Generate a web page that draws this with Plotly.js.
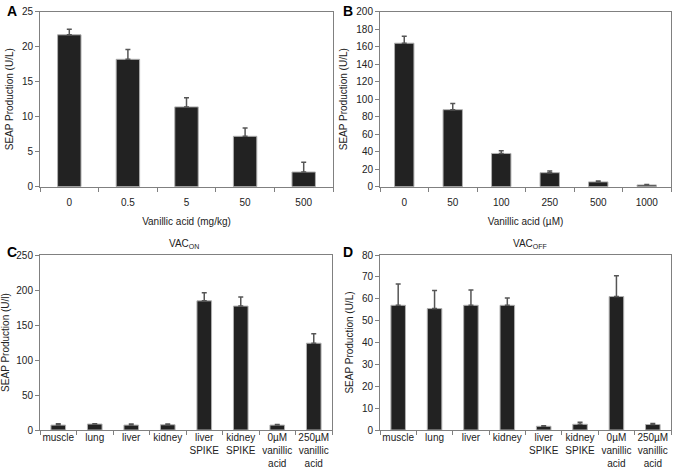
<!DOCTYPE html>
<html>
<head>
<meta charset="utf-8">
<script src="https://cdn.plot.ly/plotly-3.0.1.min.js"></script>
<style>html,body{margin:0;padding:0;background:#fff;}#chart{width:673px;height:472px;}</style>
</head>
<body>
<div id="chart"></div>
<script>
// Panel A
const catsA = ["0", "0.5", "5", "50", "500"];
const valsA = [21.7, 18.2, 11.4, 7.2, 2.1];
const errA = [0.8, 1.4, 1.3, 1.2, 1.4];
// Panel B
const catsB = ["0", "50", "100", "250", "500", "1000"];
const valsB = [164, 88, 38, 16, 5.5, 2];
const errB = [8, 7, 3, 2, 1, 0.5];
// Panel C
const catsCD = ["muscle", "lung", "liver", "kidney", "liver<br>SPIKE", "kidney<br>SPIKE", "0µM<br>vanillic<br>acid", "250µM<br>vanillic<br>acid"];
const valsC = [7, 8.5, 7, 7.5, 184.5, 177, 7, 124];
const errC = [2, 0.6, 1.5, 1, 11.5, 13, 1, 13.5];
// Panel D
const valsD = [57, 55.5, 57, 57, 1.7, 2.6, 61, 2.5];
const errD = [9.8, 8.3, 7, 3.3, 0.3, 0.9, 9.5, 0.5];

const W = 673, H = 472;
function dx(a, b) { return [a / W, b / W]; }
function dy(top, bottom) { return [(H - bottom) / H, (H - top) / H]; }

function bar(x, y, e, xa, ya) {
  return {
    type: 'bar', x: x, y: y, xaxis: xa, yaxis: ya,
    marker: { color: '#222222', line: { color: '#b0b0b0', width: 1 } },
    error_y: { type: 'data', symmetric: false, array: e, arrayminus: y.map(() => 0),
               color: '#555555', thickness: 1.5, width: 2.5 },
    hoverinfo: 'none', showlegend: false
  };
}

const font = { family: 'Liberation Sans, Arial, sans-serif', size: 10, color: '#222' };

function xax(domain, anchor, title, standoff) {
  const o = {
    domain: domain, anchor: anchor, type: 'category',
    showline: true, linecolor: '#808080', linewidth: 1, mirror: true,
    ticks: 'outside', tickson: 'boundaries', ticklen: 4, tickcolor: '#808080',
    tickangle: 0, automargin: false, ticklabelstandoff: standoff,
    showgrid: false, zeroline: false, tickfont: font, fixedrange: true
  };
  if (title) o.title = { text: title, font: font, standoff: 11 };
  return o;
}
function yax(domain, anchor, range, dtick, title) {
  return {
    domain: domain, anchor: anchor, range: range, dtick: dtick,
    showline: true, linecolor: '#808080', linewidth: 1, mirror: true,
    ticks: 'outside', ticklen: 4, tickcolor: '#808080', automargin: false,
    showgrid: false, zeroline: false, tickfont: font, fixedrange: true,
    title: { text: title, font: font, standoff: 6 }
  };
}

const data = [
  bar(catsA, valsA, errA, 'x', 'y'),
  bar(catsB, valsB, errB, 'x2', 'y2'),
  bar(catsCD, valsC, errC, 'x3', 'y3'),
  bar(catsCD, valsD, errD, 'x4', 'y4')
];

const letterFont = { family: 'Liberation Sans, Arial, sans-serif', size: 14, color: '#000' };
function letter(t, px, py) {
  return { text: '<b>' + t + '</b>', x: px / W, y: 1 - py / H, xref: 'paper', yref: 'paper',
           showarrow: false, font: letterFont, xanchor: 'center', yanchor: 'middle' };
}
function ptitle(t, px, py) {
  return { text: t, x: px / W, y: 1 - py / H, xref: 'paper', yref: 'paper',
           showarrow: false, font: font, xanchor: 'center', yanchor: 'middle' };
}

const layout = {
  width: W, height: H,
  margin: { l: 0, r: 0, t: 0, b: 0 },
  paper_bgcolor: '#fff', plot_bgcolor: '#fff',
  bargap: 0.6,
  font: font,
  xaxis: xax(dx(40, 333), 'y', 'Vanillic acid (mg/kg)', 6),
  yaxis: yax(dy(11.7, 186.7), 'x', [0, 25], 5, 'SEAP Production (U/L)'),
  xaxis2: xax(dx(380, 671), 'y2', 'Vanillic acid (µM)', 6),
  yaxis2: yax(dy(11.7, 186.7), 'x2', [0, 200], 20, 'SEAP Production (U/L)'),
  xaxis3: xax(dx(40, 332), 'y3', null, -2),
  yaxis3: yax(dy(255, 430), 'x3', [0, 250], 50, 'SEAP Production (U/l)'),
  xaxis4: xax(dx(380, 671), 'y4', null, -2),
  yaxis4: yax(dy(255, 430), 'x4', [0, 80], 10, 'SEAP Production (U/L)'),
  annotations: [
    letter('A', 12, 11), letter('B', 348, 11), letter('C', 12, 252), letter('D', 348, 252),
    ptitle('VAC<sub>ON</sub>', 184, 244), ptitle('VAC<sub>OFF</sub>', 530, 244)
  ]
};

Plotly.newPlot('chart', data, layout, { staticPlot: true, displayModeBar: false });
</script>
</body>
</html>
